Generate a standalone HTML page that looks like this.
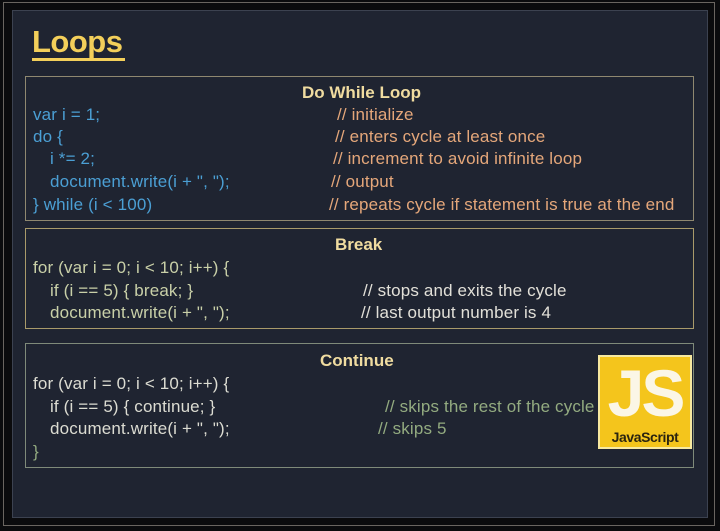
<!DOCTYPE html>
<html><head><meta charset="utf-8"><style>
*{margin:0;padding:0;box-sizing:border-box}
body{width:720px;height:531px;background:#0b0b0d;position:relative;overflow:hidden;font-family:"Liberation Sans",sans-serif}
.outer{position:absolute;left:3px;top:2px;width:712px;height:524px;border:1px solid #6a6560}
.panel{position:absolute;left:12px;top:10px;width:696px;height:508px;background:#1f2431;border:1px solid #3c4250}
.box{position:absolute;left:25px;width:669px;border:1px solid}
.t{position:absolute;white-space:nowrap;font-size:17px;letter-spacing:0.15px;line-height:18px}
.h{position:absolute;font-weight:bold;font-size:17px;color:#f0dca0;white-space:nowrap}
.b1{color:#4b9fd4}.c1{color:#e5a77a}
.b2{color:#c9d0a8}.c2{color:#e2e0d8}
.b3{color:#dcdcd2}.c3{color:#93ab80}
</style></head><body>
<div class="outer"></div>
<div class="panel"></div>
<div class="t" style="left:32px;top:24px;font-size:31px;font-weight:bold;color:#f3cf5a;letter-spacing:-0.5px;line-height:36px">Loops</div>
<div style="position:absolute;left:32px;top:58px;width:93px;height:3px;background:#f3cf5a"></div>

<div class="box" style="top:76px;height:145px;border-color:#8f8870"></div>
<div class="h" style="left:302px;top:83px">Do While Loop</div>
<div class="t b1" style="left:33px;top:106px">var i = 1;</div>
<div class="t b1" style="left:33px;top:128px">do {</div>
<div class="t b1" style="left:50px;top:150px">i *= 2;</div>
<div class="t b1" style="left:50px;top:173px">document.write(i + ", ");</div>
<div class="t b1" style="left:33px;top:196px">} while (i &lt; 100)</div>
<div class="t c1" style="left:337px;top:106px">// initialize</div>
<div class="t c1" style="left:335px;top:128px">// enters cycle at least once</div>
<div class="t c1" style="left:333px;top:150px">// increment to avoid infinite loop</div>
<div class="t c1" style="left:331px;top:173px">// output</div>
<div class="t c1" style="left:329px;top:196px">// repeats cycle if statement is true at the end</div>

<div class="box" style="top:228px;height:101px;border-color:#a89a6a"></div>
<div class="h" style="left:335px;top:235px">Break</div>
<div class="t b2" style="left:33px;top:259px">for (var i = 0; i &lt; 10; i++) {</div>
<div class="t b2" style="left:50px;top:282px">if (i == 5) { break; }</div>
<div class="t b2" style="left:50px;top:304px">document.write(i + ", ");</div>
<div class="t c2" style="left:363px;top:282px">// stops and exits the cycle</div>
<div class="t c2" style="left:361px;top:304px">// last output number is 4</div>

<div class="box" style="top:343px;height:125px;border-color:#7f8a7a"></div>
<div class="h" style="left:320px;top:351px">Continue</div>
<div class="t b3" style="left:33px;top:375px">for (var i = 0; i &lt; 10; i++) {</div>
<div class="t b3" style="left:50px;top:398px">if (i == 5) { continue; }</div>
<div class="t b3" style="left:50px;top:420px">document.write(i + ", ");</div>
<div class="t c3" style="left:33px;top:443px">}</div>
<div class="t c3" style="left:385px;top:398px">// skips the rest of the cycle</div>
<div class="t c3" style="left:378px;top:420px">// skips 5</div>

<div style="position:absolute;left:598px;top:355px;width:94px;height:94px;background:#f4c51c;border:2px solid #f7e9a0"></div>
<div class="t" style="left:598px;width:94px;text-align:center;top:360px;font-size:66px;line-height:66px;font-weight:bold;color:#fbf6e6;letter-spacing:-3px">JS</div>
<div class="t" style="left:598px;width:94px;text-align:center;top:428px;font-size:14px;font-weight:bold;color:#2a2410;letter-spacing:-0.4px">JavaScript</div>
</body></html>
